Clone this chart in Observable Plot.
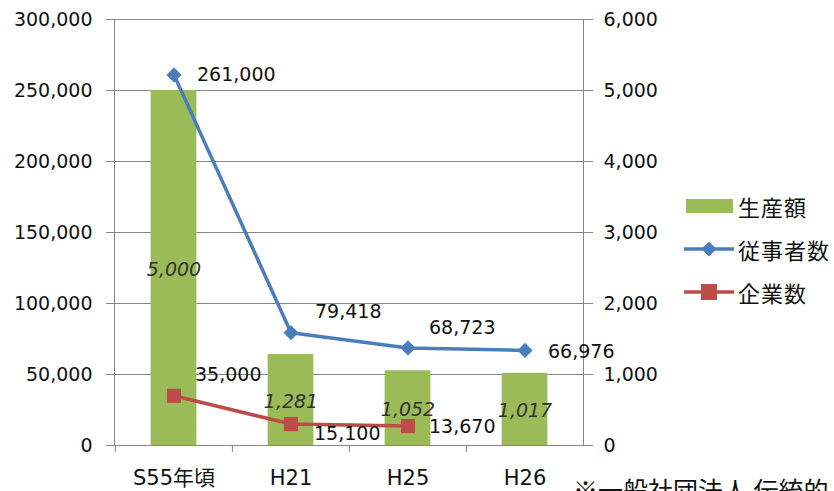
<!DOCTYPE html>
<html><head><meta charset="utf-8">
<script src="https://cdn.jsdelivr.net/npm/d3@7"></script>
<script src="https://cdn.jsdelivr.net/npm/@observablehq/plot@0.6"></script>
<style>
body{margin:0;background:#fff;width:834px;height:491px;overflow:hidden;position:relative;font-family:"DejaVu Sans","Noto Sans CJK JP",sans-serif;color:#111;}
#chart{position:absolute;left:0;top:0;}
.item{position:absolute;left:684px;height:28px;display:flex;align-items:center;white-space:nowrap;font-family:"Noto Sans CJK JP",sans-serif;font-size:22px;letter-spacing:1px;}
.item svg{display:block;margin-right:2px;}
#caption{position:absolute;left:573px;top:477px;font-family:"Noto Sans CJK JP",sans-serif;font-size:25px;line-height:1;white-space:nowrap;color:#111;}
</style></head>
<body>
<div id="chart"></div>
<div id="legend"></div>
<div id="caption"></div>
<script>
// ---- data ----
const categories = ["S55年頃", "H21", "H25", "H26"];
const production = [5000, 1281, 1052, 1017];          // 生産額 (right axis)
const workers = [261000, 79418, 68723, 66976];         // 従事者数 (left axis)
const companies = [35000, 15100, 13670, null];         // 企業数 (left axis)
const seriesNames = ["生産額", "従事者数", "企業数"];
const leftTicks = [0, 50000, 100000, 150000, 200000, 250000, 300000];
const rightTicks = [0, 1000, 2000, 3000, 4000, 5000, 6000];
const captionText = "※一般社団法人 伝統的";

const RATIO = leftTicks[leftTicks.length - 1] / rightTicks[rightTicks.length - 1];
const fmt = d3.format(",");
const rows = categories.map((c, i) => ({cat: c, prod: production[i], workers: workers[i], companies: companies[i]}));

const GREEN = "#9BBB59", BLUE = "#4A7EBB", RED = "#BE4B48", GRID = "#868686";
const bw = (583 - 114) / categories.length;

const plot = Plot.plot({
  width: 834, height: 491,
  marginLeft: 114, marginRight: 251, marginTop: 19, marginBottom: 46,
  style: {fontFamily: '"DejaVu Sans","Noto Sans CJK JP",sans-serif', fontSize: "19px", color: "#111", background: "transparent"},
  x: {type: "band", domain: categories, padding: 0, label: null},
  y: {domain: [0, leftTicks[leftTicks.length - 1]], label: null},
  marks: [
    Plot.gridY(leftTicks, {stroke: GRID, strokeOpacity: 1}),
    Plot.frame({stroke: GRID}),
    Plot.barY(rows, {x: "cat", y: d => d.prod * RATIO, fill: GREEN, insetLeft: (bw - 46) / 2, insetRight: (bw - 46) / 2}),
    Plot.axisX({tickSize: 7, tickFormat: () => "", dx: -bw / 2, stroke: GRID}),
    Plot.axisX({tickSize: 0, tickPadding: 25, fontSize: 21}),
    Plot.axisY({anchor: "left", ticks: leftTicks, tickSize: 8, tickPadding: 14, tickFormat: fmt, fontSize: 19, stroke: GRID}),
    Plot.axisY({anchor: "right", ticks: rightTicks.map(v => v * RATIO), tickSize: 9, tickPadding: 11, tickFormat: d => fmt(d / RATIO), fontSize: 19, stroke: GRID}),
    Plot.text(rows, {x: "cat", y: d => d.prod * RATIO / 2, text: d => fmt(d.prod), fontStyle: "italic", fontSize: 19, fill: "#333", dy: 1.5}),
    Plot.line(rows, {x: "cat", y: "workers", stroke: BLUE, strokeWidth: 3.5}),
    Plot.line(rows.filter(d => d.companies != null), {x: "cat", y: "companies", stroke: RED, strokeWidth: 3.5}),
    Plot.dot(rows, {x: "cat", y: "workers", symbol: "diamond2", r: 6.8, fill: BLUE}),
    Plot.dot(rows.filter(d => d.companies != null), {x: "cat", y: "companies", symbol: "square2", r: 9, fill: RED}),
    // 従事者数 labels
    Plot.text(rows, {filter: (d, i) => i === 0, x: "cat", y: "workers", text: d => fmt(d.workers), textAnchor: "start", dx: 23, dy: 0, fontSize: 19}),
    Plot.text(rows, {filter: (d, i) => i === 1, x: "cat", y: "workers", text: d => fmt(d.workers), textAnchor: "start", dx: 24, dy: -21, fontSize: 19}),
    Plot.text(rows, {filter: (d, i) => i === 2, x: "cat", y: "workers", text: d => fmt(d.workers), textAnchor: "start", dx: 21, dy: -20, fontSize: 19}),
    Plot.text(rows, {filter: (d, i) => i === 3, x: "cat", y: "workers", text: d => fmt(d.workers), textAnchor: "start", dx: 23, dy: 2, fontSize: 19}),
    // 企業数 labels
    Plot.text(rows, {filter: (d, i) => i === 0 && d.companies != null, x: "cat", y: "companies", text: d => fmt(d.companies), textAnchor: "start", dx: 21, dy: -21, fontSize: 19}),
    Plot.text(rows, {filter: (d, i) => i === 1 && d.companies != null, x: "cat", y: "companies", text: d => fmt(d.companies), textAnchor: "start", dx: 23, dy: 10, fontSize: 19}),
    Plot.text(rows, {filter: (d, i) => i === 2 && d.companies != null, x: "cat", y: "companies", text: d => fmt(d.companies), textAnchor: "start", dx: 21, dy: 1, fontSize: 19})
  ]
});
document.getElementById("chart").appendChild(plot);

// ---- legend ----
const legend = document.getElementById("legend");
const swatches = [
  `<svg width="52" height="28"><rect x="2" y="7" width="47" height="14" fill="${GREEN}"/></svg>`,
  `<svg width="52" height="28"><line x1="0" y1="14" x2="50" y2="14" stroke="${BLUE}" stroke-width="3.5"/><path d="M25,6.5L32.5,14L25,21.5L17.5,14Z" fill="${BLUE}"/></svg>`,
  `<svg width="52" height="28"><line x1="0" y1="14" x2="50" y2="14" stroke="${RED}" stroke-width="3.5"/><rect x="17" y="6" width="16" height="16" fill="${RED}"/></svg>`
];
const centers = [206, 249, 292];
seriesNames.forEach((name, i) => {
  const div = document.createElement("div");
  div.className = "item";
  div.style.top = (centers[i] - 14) + "px";
  div.innerHTML = swatches[i] + `<span>${name}</span>`;
  legend.appendChild(div);
});
document.getElementById("caption").textContent = captionText;
</script>
</body></html>
